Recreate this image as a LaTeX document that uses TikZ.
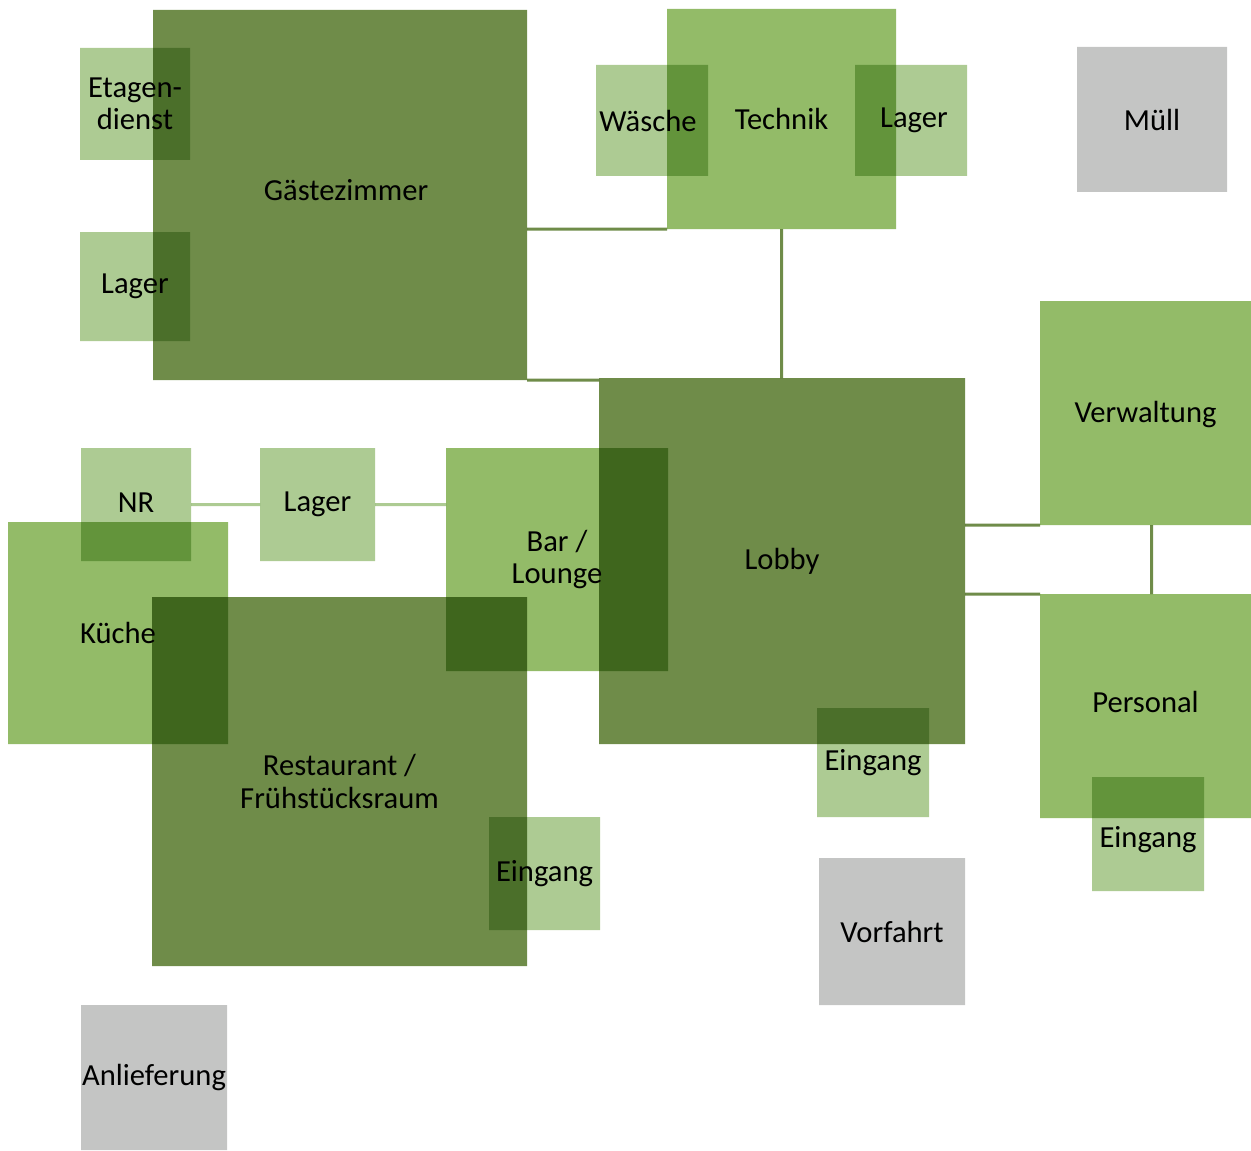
\documentclass[tikz,border=0pt]{standalone}
\usepackage{fontspec}
\setmainfont{Carlito}
\usetikzlibrary{positioning}
\definecolor{roomdark}{RGB}{111,140,73}
\definecolor{roommid}{RGB}{147,187,104}
\definecolor{roomlight}{RGB}{173,203,147}
\definecolor{roomgrey}{RGB}{196,197,196}
\begin{document}
\begin{tikzpicture}[
                x=0.5pt, y=-0.5pt,
                room/.style={rectangle, inner sep=0pt, outer sep=0pt, draw=none},
                dims/.style 2 args={minimum width=#1*0.5pt, minimum height=#2*0.5pt},
                dark/.style={room, fill=roomdark},
                mid/.style={room, fill=roommid},
                light/.style={room, fill=roomlight},
                grey/.style={room, fill=roomgrey},
                lbl/.style={font=\fontsize{15.3}{16.2}\selectfont, align=center, inner sep=0pt},
                link/.style={draw=roomdark, line width=1.5pt},
                linklight/.style={draw=roomlight, line width=1.5pt}
            ]
                \useasboundingbox (0,0) rectangle (1251,1150);
                \begin{scope}[blend group=multiply]
                % rooms
                \node[dark, dims={374}{370}]  (gast)   at (340,195)    {};
                \node[light, dims={110}{112}] (etag)   at (135,104)    {};
                \node[light, dims={110}{109}] (lagl)   at (135,286.5)  {};
                \node[mid, dims={229}{220}]   (tech)   at (781.5,119)  {};
                \node[light, dims={112}{111}] (waes)   at (652,120.5)  {};
                \node[light, dims={112}{111}] (lagr)   at (911,120.5)  {};
                \node[grey, dims={150}{145}]  (muell)  at (1152,119.5) {};
                \node[mid, dims={211}{224}]   (verw)   at (1145.5,413) {};
                \node[dark, dims={366}{366}]  (lobby)  at (782,561)    {};
                \node[mid, dims={222}{223}]   (bar)    at (557,559.5)  {};
                \node[light, dims={110}{113}] (nr)     at (136,504.5)  {};
                \node[light, dims={115}{113}] (lagm)   at (317.5,504.5) {};
                \node[mid, dims={220}{222}]   (kueche) at (118,633)    {};
                \node[dark, dims={375}{369}]  (rest)   at (339.5,781.5) {};
                \node[light, dims={111}{113}] (eingr)  at (544.5,873.5) {};
                \node[light, dims={112}{109}] (eingl)  at (873,762.5)  {};
                \node[mid, dims={211}{224}]   (pers)   at (1145.5,706) {};
                \node[light, dims={112}{114}] (eingp)  at (1148,834)   {};
                \node[grey, dims={146}{147}]  (vorf)   at (892,931.5)  {};
                \node[grey, dims={146}{145}]  (anl)    at (154,1077.5) {};

                % links
                \draw[link] (tech.south west) -- (tech.south west -| gast.east);
                \draw[link] (gast.south east) -- (gast.south east -| lobby.west);
                \draw[link] (tech.south) -- (tech.south |- lobby.north);
                \draw[link] (verw.south west) -- (verw.south west -| lobby.east);
                \draw[link] (pers.north west) -- (pers.north west -| lobby.east);
                \draw[link] ([xshift=3pt]verw.south) -- ([xshift=3pt]pers.north);
                \draw[linklight] (nr.east) -- (lagm.west);
                \draw[linklight] (lagm.east) -- (lagm.east -| bar.west);
                \end{scope}

                % labels
                \node[lbl] at ([xshift=3pt]gast.center |- 0,190) {Gästezimmer};
                \node[lbl] at (etag)   {Etagen-\\dienst};
                \node[lbl] at (lagl)   {Lager};
                \node[lbl] at ([xshift=-2pt]waes.center) {Wäsche};
                \node[lbl] at (tech)   {Technik};
                \node[lbl] at ([xshift=1.5pt]lagr.center) {Lager};
                \node[lbl] at (muell)  {Müll};
                \node[lbl] at ([yshift=-1pt]verw.center) {Verwaltung};
                \node[lbl] at (lobby)  {Lobby};
                \node[lbl] at (bar)    {Bar /\\Lounge};
                \node[lbl] at ([yshift=1pt]nr.center) {NR};
                \node[lbl] at (lagm)   {Lager};
                \node[lbl] at (kueche) {Küche};
                \node[lbl] at (rest)   {Restaurant /\\Frühstücksraum};
                \node[lbl] at (eingr)  {Eingang};
                \node[lbl] at (eingl)  {Eingang};
                \node[lbl] at ([yshift=2pt]pers.center) {Personal};
                \node[lbl] at ([yshift=-3pt]eingp.center) {Eingang};
                \node[lbl] at (vorf)   {Vorfahrt};
                \node[lbl] at (anl)    {Anlieferung};
            \end{tikzpicture}
\end{document}
